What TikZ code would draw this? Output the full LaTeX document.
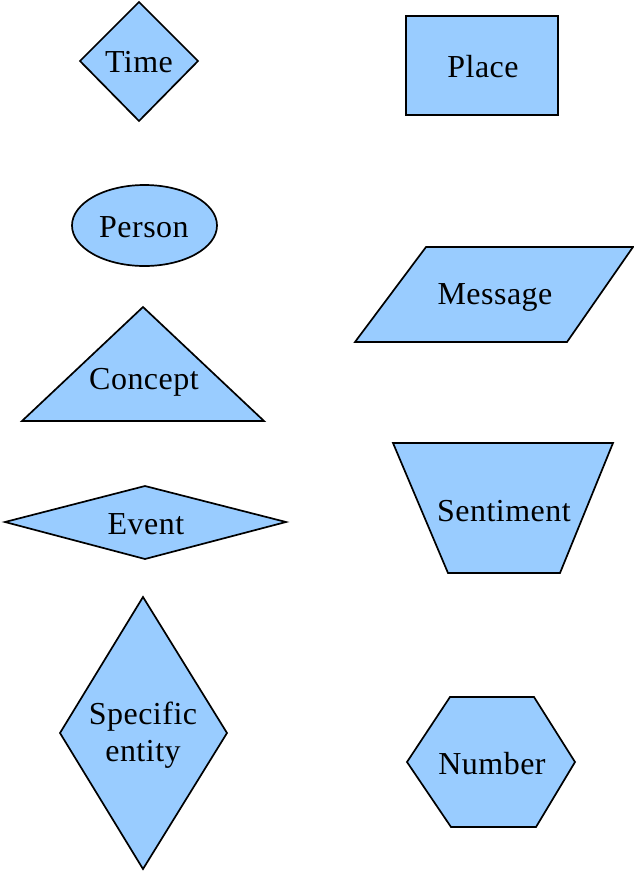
\documentclass[tikz,border=0pt]{standalone}
\usepackage{fontspec}
\setmainfont{Liberation Serif}[LetterSpace=1.5]
\definecolor{shapefill}{HTML}{99CCFF}
\begin{document}
\begin{tikzpicture}[x=1pt,y=-1pt,
  symbolbox/.style={fill=shapefill,draw=black,line width=1.7pt,line join=miter},
  symlabel/.style={font=\fontsize{32}{37}\selectfont,align=center,inner sep=0pt}]
\useasboundingbox (0,0) rectangle (634,871);
% Left column
\filldraw[symbolbox] (139,2) -- (198,61) -- (139,121) -- (80,61) -- cycle;
\node[symlabel] (time) at (139,62) {Time};
\filldraw[symbolbox] (144.5,225.5) ellipse [x radius=72.5, y radius=40.5];
\node[symlabel] (person) at (144,227) {Person};
\filldraw[symbolbox] (143,307) -- (264,421) -- (22,421) -- cycle;
\node[symlabel] (concept) at (144,382) {Concept};
\filldraw[symbolbox] (145,486) -- (286,522) -- (145,559) -- (5,522) -- cycle;
\node[symlabel] (event) at (146,524) {Event};
\filldraw[symbolbox] (143,597) -- (227,733) -- (143,869) -- (60,733) -- cycle;
\node[symlabel] (entity) at (143,735) {Specific\\entity};
% Right column
\filldraw[symbolbox] (406,16) rectangle (558,115);
\node[symlabel] (place) at (483,67) {Place};
\filldraw[symbolbox] (426,247) -- (633,247) -- (567,342) -- (355,342) -- cycle;
\node[symlabel] (message) at (495,297) {Message};
\filldraw[symbolbox] (393,443) -- (613,443) -- (560,573) -- (448,573) -- cycle;
\node[symlabel] (sentiment) at (504,511) {Sentiment};
\filldraw[symbolbox] (450,697) -- (534,697) -- (575,762) -- (536,827) -- (451,827) -- (407,762) -- cycle;
\node[symlabel] (number) at (492,764) {Number};
\end{tikzpicture}
\end{document}
